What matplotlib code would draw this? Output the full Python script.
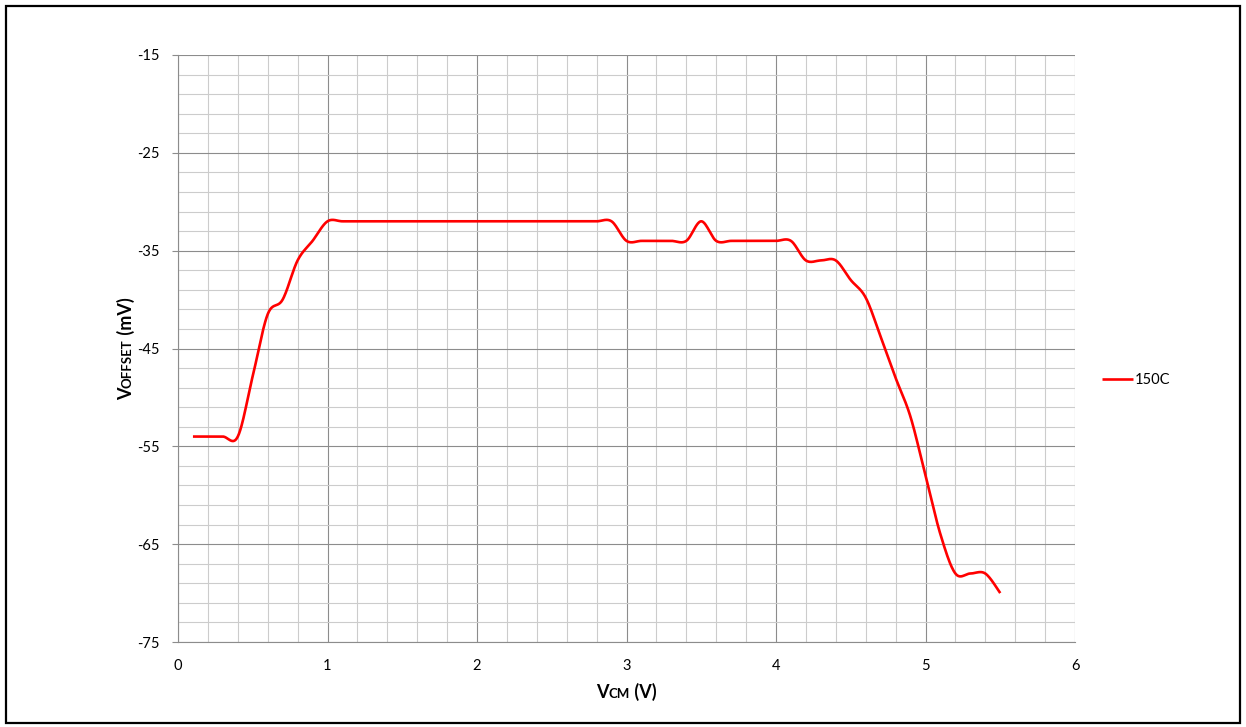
import numpy as np
import matplotlib
matplotlib.use("Agg")
import matplotlib.pyplot as plt
from matplotlib.patches import Rectangle

plt.rcParams['font.family'] = ['Lato', 'DejaVu Sans']
plt.rcParams['axes.unicode_minus'] = False

# ---- data ----
vcm = [0.1, 0.2, 0.3, 0.4, 0.5, 0.6, 0.7, 0.8, 0.9, 1.0,
       1.1, 1.2, 1.3, 1.4, 1.5, 1.6, 1.7, 1.8, 1.9, 2.0,
       2.1, 2.2, 2.3, 2.4, 2.5, 2.6, 2.7, 2.8, 2.9, 3.0,
       3.1, 3.2, 3.3, 3.4, 3.5, 3.6, 3.7, 3.8, 3.9, 4.0,
       4.1, 4.2, 4.3, 4.4, 4.5, 4.6, 4.7, 4.8, 4.9, 5.0,
       5.1, 5.2, 5.3, 5.4, 5.5]
voffset_150c = [-54, -54, -54, -54, -47.8, -41.5, -40, -36, -34, -32,
                -32, -32, -32, -32, -32, -32, -32, -32, -32, -32,
                -32, -32, -32, -32, -32, -32, -32, -32, -32, -34,
                -34, -34, -34, -34, -32, -34, -34, -34, -34, -34,
                -34, -36, -36, -36, -38, -39.8, -43.8, -48, -52, -58,
                -64, -68, -68, -68, -70]
series_label = "150C"
x_ticks = [0, 1, 2, 3, 4, 5, 6]
y_ticks = [-75, -65, -55, -45, -35, -25, -15]

W, H = 1246, 727
fig = plt.figure(figsize=(W / 100, H / 100), dpi=100)
ax = fig.add_axes([178 / W, 1 - 642 / H, (1075 - 178) / W, (642 - 55) / H])


def catmull_rom(xs, ys, n=24):
    P = np.column_stack([xs, ys]).astype(float)
    Pe = np.vstack([P[0], P, P[-1]])
    out = []
    t = np.linspace(0, 1, n, endpoint=False)[:, None]
    for i in range(len(P) - 1):
        p0, p1, p2, p3 = Pe[i], Pe[i + 1], Pe[i + 2], Pe[i + 3]
        seg = 0.5 * ((2 * p1) + (-p0 + p2) * t + (2 * p0 - 5 * p1 + 4 * p2 - p3) * t ** 2
                     + (-p0 + 3 * p1 - 3 * p2 + p3) * t ** 3)
        out.append(seg)
    out.append(P[-1][None, :])
    S = np.vstack(out)
    return S[:, 0], S[:, 1]


sx, sy = catmull_rom(vcm, voffset_150c)
ax.plot(sx, sy, color='#ff0000', lw=1.9, label=series_label, solid_capstyle='butt', zorder=3)

ax.set_xlim(0, 6)
ax.set_ylim(-75, -15)
ax.set_xticks(x_ticks)
ax.set_yticks(y_ticks)
ax.set_xticks(np.arange(0, 6.01, 0.2), minor=True)
ax.set_yticks(np.arange(-75, -14.9, 2), minor=True)

ax.grid(which='major', color='#8c8c8c', lw=0.8)
ax.grid(which='minor', color='#cccccc', lw=0.8)
ax.set_axisbelow(True)

for s in ['top', 'right']:
    ax.spines[s].set_visible(False)
for s in ['left', 'bottom']:
    ax.spines[s].set_color('#8c8c8c')
    ax.spines[s].set_linewidth(0.8)

ax.tick_params(axis='y', which='major', length=4, width=0.8, color='#8c8c8c', pad=9, labelsize=10.5)
ax.tick_params(axis='x', which='major', length=0, pad=12, labelsize=10.5)
ax.tick_params(which='minor', length=0)

leg = fig.legend(loc='center left', bbox_to_anchor=(1102 / W, 1 - 380 / H), frameon=False,
                 borderpad=0, borderaxespad=0, handlelength=2.1, handletextpad=0.15,
                 fontsize=10.5)

# figure border
fig.patches.append(Rectangle((6 / W, 4 / H), (1240 - 6) / W, (722 - 5) / H,
                             transform=fig.transFigure, fill=False, lw=1.6,
                             edgecolor='black', zorder=10))

renderer = fig.canvas.get_renderer()


def rich_label(pieces, center, base, rotation):
    texts = []
    lengths = []
    for s, size in pieces:
        t = fig.text(0, 0, s, fontsize=size, fontweight='bold', ha='left', va='baseline',
                     rotation=rotation, rotation_mode='anchor')
        bb = t.get_window_extent(renderer=renderer)
        texts.append(t)
        lengths.append(bb.width if rotation == 0 else bb.height)
    pos = center - sum(lengths) / 2
    for t, L in zip(texts, lengths):
        if rotation == 0:
            t.set_position((pos / W, base / H))
        else:
            t.set_position((base / W, pos / H))
        pos += L


rich_label([("V", 13), ("CM", 9.5), (" (V)", 13)], center=(178 + 1075) / 2, base=H - 698, rotation=0)
rich_label([("V", 13), ("OFFSET", 9.5), (" (mV)", 13)], center=H - (55 + 642) / 2, base=132, rotation=90)

fig.savefig("out.png", dpi=100)
